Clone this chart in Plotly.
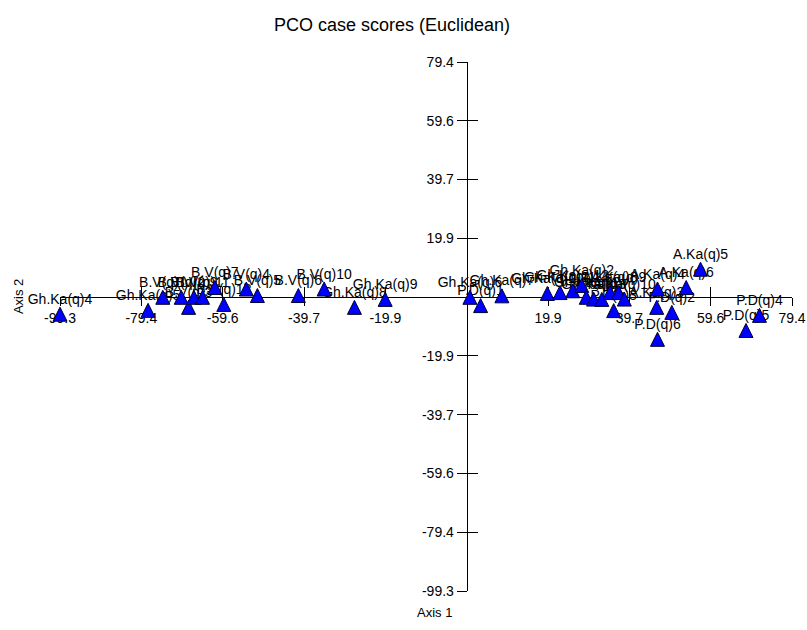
import plotly.graph_objects as go

# ---- data (case scores) ----
case_labels = [
    "Gh.Ka(q)4", "Gh.Ka(q)5", "B.V(q)1", "B.V(q)2", "B.V(q)3", "B.V(q)9", "B.V(q)11",
    "B.V(q)7", "B.V(q)12", "B.V(q)4", "B.V(q)5", "B.V(q)6", "B.V(q)10", "Gh.Ka(q)8",
    "Gh.Ka(q)9", "Gh.Ka(q)6", "P.D(q)1", "Gh.Ka(q)7",
    "Gh.Ka(q)10", "Gh.Ka(q)11", "Gh.Ka(q)12", "Gh.Ka(q)2", "Gh.Ka(q)1", "Gh.Ka(q)3",
    "A.Ka(q)7", "A.Ka(q)8", "A.Ka(q)9", "A.Ka(q)10", "P.D(q)3", "A.Ka(q)4", "A.Ka(q)3",
    "P.D(q)2", "P.D(q)6", "A.Ka(q)6", "A.Ka(q)5", "P.D(q)4", "P.D(q)5",
]
axis1_scores = [
    -99.3, -77.8, -74.2, -69.7, -67.9, -66.6, -64.5,
    -61.5, -59.3, -53.8, -51.1, -41.1, -34.8, -27.4,
    -19.9, 0.8, 3.4, 8.6,
    19.7, 22.8, 25.9, 28.1, 29.2, 31.0,
    33.0, 35.0, 37.1, 38.5, 35.9, 46.6, 46.4,
    50.1, 46.6, 53.6, 57.1, 71.5, 68.2,
]
axis2_scores = [
    -3.4, -2.1, 2.3, 2.3, -1.1, 2.3, 2.3,
    5.6, -0.1, 5.1, 2.9, 2.9, 5.1, -1.1,
    1.6, 2.3, -0.5, 2.8,
    3.6, 3.9, 4.5, 6.3, 2.3, 1.7,
    1.6, 3.9, 3.9, 1.7, -2.2, 5.1, -1.1,
    -2.8, -11.9, 5.6, 11.8, -3.8, -8.9,
]

tick_vals = [-99.3, -79.44, -59.58, -39.72, -19.86, 19.86, 39.72, 59.58, 79.44]
tick_text = ["-99.3", "-79.4", "-59.6", "-39.7", "-19.9", "19.9", "39.7", "59.6", "79.4"]
axis_range = [-99.3, 79.44]

FONT = "Liberation Sans, Arial, sans-serif"
zero_pos = (0 - axis_range[0]) / (axis_range[1] - axis_range[0])

fig = go.Figure()

# labels first, so the triangles sit on top of them
fig.add_trace(go.Scatter(
    x=axis1_scores, y=axis2_scores, text=case_labels,
    mode="text", textposition="top center",
    textfont=dict(family=FONT, size=14, color="black"),
    cliponaxis=False, showlegend=False, hoverinfo="skip",
))
fig.add_trace(go.Scatter(
    x=axis1_scores, y=axis2_scores, text=case_labels,
    mode="markers",
    marker=dict(symbol="arrow-up", size=14, color="#0000FF",
                line=dict(color="#000033", width=1)),
    cliponaxis=False, showlegend=False, hoverinfo="text",
))
# empty trace to realise the overlay axes used for the inner half of the crossing ticks
fig.add_trace(go.Scatter(x=[], y=[], xaxis="x2", yaxis="y2",
                         showlegend=False, hoverinfo="skip"))

common = dict(range=axis_range, showgrid=False, zeroline=False, automargin=False,
              tickvals=tick_vals, ticktext=tick_text, tickcolor="black")

fig.update_layout(
    width=807, height=630,
    margin=dict(l=60, r=15, t=62, b=39),
    paper_bgcolor="white", plot_bgcolor="white",
    font=dict(family=FONT, color="black"),
    title=dict(text="PCO case scores (Euclidean)", x=(392 - 60) / 732, xref="paper",
               xanchor="center", y=1 - 25 / 630, yref="container", yanchor="middle",
               font=dict(family=FONT, size=18, color="black")),
    xaxis=dict(**common, anchor="free", position=zero_pos, side="bottom",
               showline=True, linecolor="black", linewidth=1,
               ticks="outside", ticklen=8, tickwidth=1,
               tickfont=dict(family=FONT, size=14, color="black"),
               layer="below traces"),
    yaxis=dict(**common, anchor="free", position=zero_pos, side="left",
               showline=True, linecolor="black", linewidth=1,
               ticks="outside", ticklen=10, tickwidth=1,
               tickfont=dict(family=FONT, size=14, color="black"),
               layer="below traces"),
    xaxis2=dict(**common, overlaying="x", anchor="free", position=zero_pos, side="bottom",
                showline=False, ticks="inside", ticklen=10, tickwidth=1,
                showticklabels=False, layer="below traces"),
    yaxis2=dict(**common, overlaying="y", anchor="free", position=zero_pos, side="left",
                showline=False, ticks="inside", ticklen=10, tickwidth=1,
                showticklabels=False, layer="below traces"),
    annotations=[
        dict(text="Axis 1", xref="paper", yref="paper", x=(434 - 60) / 732,
             y=(591 - 612) / 529, xanchor="center", yanchor="middle", showarrow=False,
             font=dict(family=FONT, size=13, color="black")),
        dict(text="Axis 2", xref="paper", yref="paper", x=(18 - 60) / 732,
             y=zero_pos, xanchor="center", yanchor="middle", showarrow=False,
             textangle=-90, font=dict(family=FONT, size=13, color="black")),
    ],
)

fig.write_html("out.html")
